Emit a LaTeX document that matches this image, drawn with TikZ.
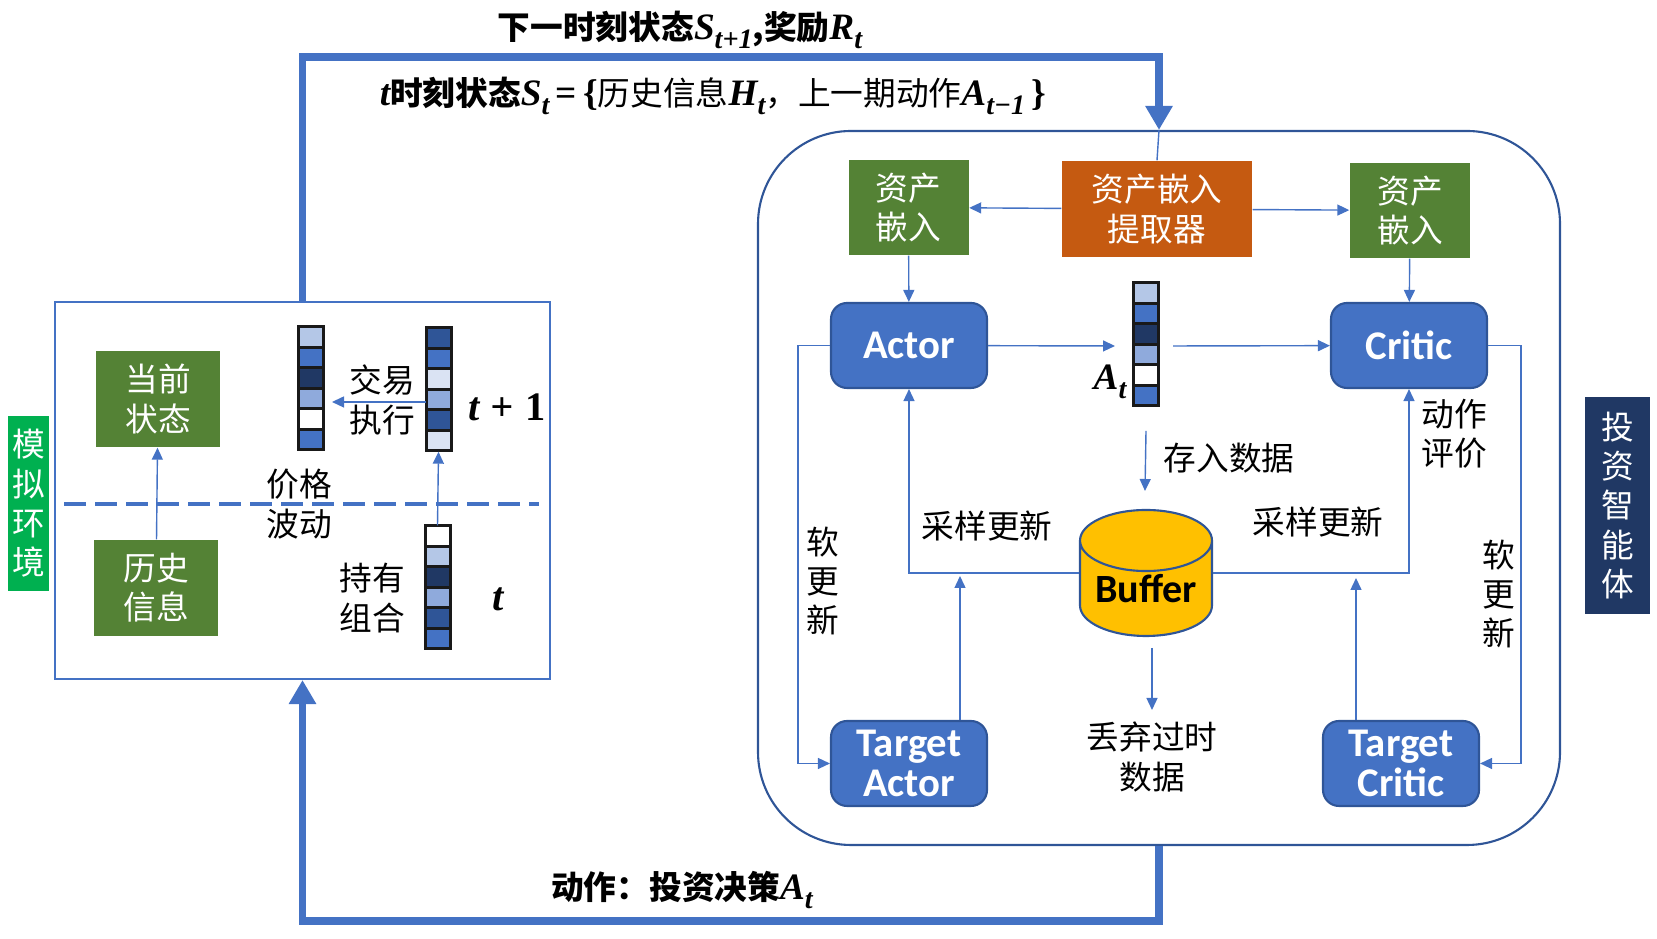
\documentclass[tikz,border=0pt]{standalone}
\usepackage{fontspec}
\usepackage{amsmath,amssymb}
\setmainfont{Noto Sans CJK SC}
\newfontfamily\carlito{Carlito}
\newfontfamily\varfont{Liberation Serif}
\usetikzlibrary{positioning,arrows.meta,shapes.geometric}
\definecolor{flow}{HTML}{4472C4}
\definecolor{edge}{HTML}{2F5597}
\definecolor{leaf}{HTML}{548235}
\definecolor{rust}{HTML}{C55A11}
\definecolor{navy}{HTML}{203864}
\definecolor{envgreen}{HTML}{00B050}
\definecolor{amber}{HTML}{FFC000}
\definecolor{cellA}{HTML}{B4C7E7}
\definecolor{cellB}{HTML}{8FAADC}
\definecolor{cellC}{HTML}{DAE3F3}
\tikzset{
    thinflow/.style={flow,thin,-{Triangle[length=0.12cm,width=0.11cm]}},
    thickflow/.style={flow,line width=0.075cm},
    greenbox/.style={fill=leaf,text=white,inner sep=0,minimum width=1.2cm,minimum height=0.95cm},
    netbox/.style={draw=edge,fill=flow,line width=0.6pt,rounded corners=0.16cm,text=white,inner sep=0,
        minimum width=1.56cm,minimum height=0.85cm,font=\carlito\bfseries\fontsize{11.6}{11.4}\selectfont},
    sidebox/.style={text=white,inner sep=0},
}
\newcommand{\holdbar}[4]{%
    \foreach \cellcol [count=\i] in {#4}
        \draw[line width=0.03cm,draw=black!90,fill=\cellcol] (#2,#3-0.205*\i+0.205) rectangle ++(0.25,-0.205);
    \node[inner sep=0,minimum width=0.25cm,minimum height=1.23cm] (#1) at (#2+0.125,#3-0.615) {};
}
\newcommand{\mvar}[2]{{\varfont\bfseries\itshape\fontsize{10.6}{11}\selectfont #1\raisebox{-0.5ex}{\fontsize{8}{8}\selectfont #2}}}

\begin{document}
\begin{tikzpicture}[every node/.style={font=\fontsize{9.3}{11.2}\selectfont,align=center}]
    \useasboundingbox (0,0) rectangle (16.57,9.39);
    \node[draw=flow,line width=0.6pt,minimum width=4.95cm,minimum height=3.77cm] (envbox) at (3.025,4.485) {};
    \node[draw=edge,line width=0.6pt,rounded corners=0.93cm,minimum width=8.02cm,minimum height=7.14cm] (agentbox) at (11.59,4.51) {};
    \node[sidebox,fill=envgreen,minimum width=0.41cm,minimum height=1.75cm] (envlabel) at (0.285,4.355) {模\\拟\\环\\境};
    \node[sidebox,fill=navy,minimum width=0.65cm,minimum height=2.17cm] (agentlabel) at (16.175,4.335) {投\\资\\智\\能\\体};

    \node[greenbox,minimum width=1.24cm,minimum height=0.96cm] (current) at (1.58,5.40) {当前\\状态};
    \node[greenbox,minimum width=1.24cm,minimum height=0.96cm] (history) at (1.56,3.51) {历史\\信息};
    \coordinate (dashA) at (0.64,4.35);
    \coordinate (dashB) at (5.39,4.35);
    \draw[flow,line width=0.035cm,dash pattern=on 0.22cm off 0.09cm] (dashA) -- (dashB);
    \holdbar{barnow}{2.98}{6.12}{cellA,flow,navy,cellB,white,flow}
    \holdbar{barnext}{4.26}{6.11}{edge,flow,cellC,cellB,edge,cellC}
    \holdbar{barhold}{4.25}{4.13}{white,cellA,navy,cellB,edge,flow}
    \node (trade) at (3.82,5.39) {交易\\执行};
    \node (price) at (2.99,4.35) {价格\\波动};
    \node (hold) at (3.72,3.41) {持有\\组合};
    \node[font=\varfont\bfseries\itshape\fontsize{11.5}{12}\selectfont] (tnext) at (5.07,5.32) {t\;+\;\upshape 1};
    \node[font=\varfont\bfseries\itshape\fontsize{11.5}{12}\selectfont] (tnow) at (4.98,3.40) {t};
    \coordinate (tradein) at (3.32,5.37);
    \coordinate (tradeout) at (4.26,5.37);
    \draw[thinflow] (history) -- (current);
    \draw[thinflow] (tradeout) -- (tradein);
    \draw[thinflow] (barhold.north) -- (barnext.south);

    \node[fill=rust,text=white,inner sep=0,minimum width=1.9cm,minimum height=0.96cm] (extractor) at (11.57,7.30) {资产嵌入\\提取器};
    \node[greenbox] (embedL) at (9.085,7.315) {资产\\嵌入};
    \node[greenbox] (embedR) at (14.10,7.285) {资产\\嵌入};
    \node[netbox] (actor) at (9.09,5.935) {Actor};
    \node[netbox] (critic) at (14.09,5.935) {Critic};
    \node[netbox] (tactor) at (9.09,1.755) {Target\\Actor};
    \node[netbox] (tcritic) at (14.01,1.755) {Target\\Critic};
    \node[cylinder,shape border rotate=90,aspect=0.6,draw=edge,fill=amber,line width=0.6pt,inner sep=0,anchor=shape center,
        minimum width=1.32cm,minimum height=1.26cm,font=\carlito\bfseries\fontsize{11.4}{12}\selectfont] (buffer) at (11.46,3.66) {Buffer};
    \holdbar{baraction}{11.33}{6.56}{cellA,flow,navy,cellB,white,flow}
    \node (actionlabel) at (11.10,5.57) {\mvar{A}{t}};

    \coordinate (actionin) at (11.15,5.93);
    \coordinate (actionout) at (11.73,5.93);
    \coordinate (storeA) at (11.46,5.08);
    \coordinate (storeB) at (11.45,4.48);
    \coordinate (dropA) at (11.52,2.91);
    \coordinate (dropB) at (11.52,2.29);
    \coordinate (sampleL) at (9.60,3.63);
    \coordinate (sampleR) at (13.56,3.61);
    \coordinate (softL) at (7.98,3.7);
    \coordinate (softR) at (15.21,3.7);
    \draw[thinflow,-] (agentbox.north) -- (extractor.north);
    \draw[thinflow] (extractor) -- (embedL);
    \draw[thinflow] (extractor) -- (embedR);
    \draw[thinflow] (embedL) -- (actor);
    \draw[thinflow] (embedR) -- (critic);
    \draw[thinflow] (actor) -- (actionin);
    \draw[thinflow] (actionout) -- (critic);
    \draw[thinflow] (storeA) -- (storeB);
    \draw[thinflow] (dropA) -- (dropB);
    \draw[thinflow] (buffer.shape center -| buffer.west) -| (actor.south);
    \draw[thinflow] (buffer.shape center -| buffer.east) -| (critic.south);
    \draw[thinflow] (tactor.north -| sampleL) -- (sampleL);
    \draw[thinflow] (tcritic.north -| sampleR) -- (sampleR);
    \draw[thinflow] (actor.west) -| (softL) |- (tactor.west);
    \draw[thinflow] (critic.east) -| (softR) |- (tcritic.east);

    \node (storetext) at (12.29,4.81) {存入数据};
    \node (sampletextL) at (9.87,4.13) {采样更新};
    \node (sampletextR) at (13.18,4.17) {采样更新};
    \node (judge) at (14.54,5.05) {动作\\评价};
    \node (softtextL) at (8.23,3.58) {软\\更\\新};
    \node (softtextR) at (14.99,3.45) {软\\更\\新};
    \node (droptext) at (11.52,1.82) {丢弃过时\\数据};

    \coordinate (railtop) at (11.59,8.82);
    \coordinate (railbot) at (11.59,0.18);
    \draw[thickflow,-{Triangle[length=0.24cm,width=0.26cm]}] (envbox.north) |- (railtop) -- (agentbox.north);
    \draw[thickflow,-{Triangle[length=0.24cm,width=0.26cm]}] (agentbox.south) -- (railbot) -| (envbox.south);
    \node[font=\bfseries\fontsize{9.3}{10.8}\selectfont] (nextstate) at (6.80,9.09) {下一时刻状态\mvar{S}{t+1},奖励\mvar{R}{t}};
    \node (nowstate) at (7.13,8.43) {\mvar{t}{}\textbf{时刻状态}\mvar{S}{t}{\varfont\bfseries\fontsize{10.6}{11}\selectfont\,=\,\{}历史信息\mvar{H}{t}，上一期动作\mvar{A}{t−1}{\varfont\bfseries\fontsize{10.6}{11}\selectfont\,\}}};
    \node[font=\bfseries\fontsize{9.3}{10.8}\selectfont] (decision) at (6.82,0.49) {动作：投资决策\mvar{A}{t}};
\end{tikzpicture}
\end{document}
